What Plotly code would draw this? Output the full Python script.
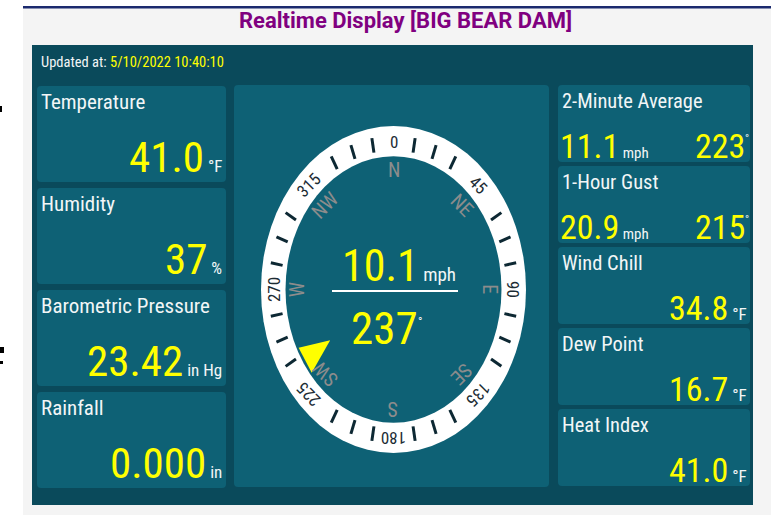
import math
import plotly.graph_objects as go

# ---------------- data ----------------
STATION = "BIG BEAR DAM"
UPDATED_AT = "5/10/2022 10:40:10"

LEFT_LABELS = ["Temperature", "Humidity", "Barometric Pressure", "Rainfall"]
LEFT_VALUES = [41.0, 37, 23.42, 0.000]
LEFT_DECIMALS = [1, 0, 2, 3]
LEFT_UNITS = ["°F", "%", "in Hg", "in"]

WIND_BOX_LABELS = ["2-Minute Average", "1-Hour Gust"]
WIND_BOX_SPEEDS = [11.1, 20.9]
WIND_BOX_DIRS = [223, 215]

RIGHT_LABELS = ["Wind Chill", "Dew Point", "Heat Index"]
RIGHT_VALUES = [34.8, 16.7, 41.0]
RIGHT_UNITS = ["°F", "°F", "°F"]

WIND_SPEED = 10.1
WIND_DIR = 237

DIAL_LABEL_DEG = [0, 45, 90, 135, 180, 225, 270, 315]
CARDINALS = ["N", "NE", "E", "SE", "S", "SW", "W", "NW"]
TICK_DEG = [10, 20, 30, 60, 70, 80, 100, 110, 120, 150, 160, 170,
            190, 200, 210, 240, 250, 260, 280, 290, 300, 330, 340, 350]

# ---------------- style ----------------
W, H = 771, 515
FONT = "Roboto Condensed, Noto Sans Condensed, Roboto, sans-serif"
TITLE_FONT = "Roboto, sans-serif"
PAGE = "#f4f4f4"
PANEL = "#0a4a5b"
BOX = "#0e6175"
YELLOW = "#ffff00"
WHITE = "#f2f6f7"
TICK_COL = "#0d2833"
NUM_COL = "#1c2c34"
CARD_COL = "#8c8c8c"


def X(v):
    return v / W


def Y(v):
    return 1 - v / H


def rrect(x0, y0, x1, y1, color, r=4):
    p = (f"M{X(x0+r)},{Y(y0)} L{X(x1-r)},{Y(y0)} Q{X(x1)},{Y(y0)} {X(x1)},{Y(y0+r)} "
         f"L{X(x1)},{Y(y1-r)} Q{X(x1)},{Y(y1)} {X(x1-r)},{Y(y1)} "
         f"L{X(x0+r)},{Y(y1)} Q{X(x0)},{Y(y1)} {X(x0)},{Y(y1-r)} "
         f"L{X(x0)},{Y(y0+r)} Q{X(x0)},{Y(y0)} {X(x0+r)},{Y(y0)} Z")
    return dict(type="path", path=p, xref="paper", yref="paper",
                fillcolor=color, line=dict(width=0), layer="below")


def prect(x0, y0, x1, y1, color):
    return dict(type="rect", xref="paper", yref="paper", x0=X(x0), x1=X(x1),
                y0=Y(y1), y1=Y(y0), fillcolor=color, line=dict(width=0), layer="below")


shapes = []
annotations = []


def ann(text, x, y, size, color=WHITE, xanchor="left", yanchor="middle", bold=False,
        family=FONT, **kw):
    annotations.append(dict(text=text, x=X(x), y=Y(y), xref="paper", yref="paper",
                            showarrow=False, xanchor=xanchor, yanchor=yanchor,
                            borderpad=0, borderwidth=0,
                            font=dict(family=family, size=size, color=color,
                                      weight="bold" if bold else "normal"), **kw))


def base_ann(text, x, baseline, size, color, xanchor):
    # place so that the text baseline sits at 'baseline' (px)
    ann(text, x, baseline + 0.212 * size, size, color, xanchor=xanchor, yanchor="bottom")


# page background pieces
shapes.append(prect(0, 0, 23, H, "#ffffff"))
shapes.append(prect(0, 0, W, 6, "#ffffff"))
shapes.append(prect(23, 6, W, 8.5, "#1b2a6e"))
shapes.append(prect(0, 106, 2, 112, "#000000"))
shapes.append(prect(0, 347, 4, 353, "#000000"))
shapes.append(prect(0, 361, 3, 364, "#000000"))
# main panel
shapes.append(prect(32, 45, 753, 505, PANEL))

# title
ann(f"Realtime Display [{STATION}]", 405, 21, 22, "#800080", xanchor="center", bold=True,
    family=TITLE_FONT)
ann(f"Updated at: <span style='color:{YELLOW}'>{UPDATED_AT}</span>", 41, 62, 14.5, WHITE)

# left column
left_tops = [86, 188, 290, 392]
for i, top in enumerate(left_tops):
    shapes.append(rrect(37, top, 226, top + 96, BOX))
    ann(LEFT_LABELS[i], 41, top + 16, 21, WHITE)
    val = f"{LEFT_VALUES[i]:.{LEFT_DECIMALS[i]}f}"
    txt = f"{val}<span style='font-size:17px;color:{WHITE}'> {LEFT_UNITS[i]}</span>"
    base_ann(txt, 222, top + 87, 43, YELLOW, "right")

# right column
right_tops = [85, 166, 247, 328, 409]
for i, top in enumerate(right_tops):
    shapes.append(rrect(558, top, 750, top + 77, BOX))
for i in range(2):
    top = right_tops[i]
    ann(WIND_BOX_LABELS[i], 562, top + 16, 20.5, WHITE)
    txt = f"{WIND_BOX_SPEEDS[i]:.1f}<span style='font-size:15px;color:{WHITE}'> mph</span>"
    base_ann(txt, 560, top + 74, 34, YELLOW, "left")
    base_ann(f"{WIND_BOX_DIRS[i]}", 745, top + 74, 34, YELLOW, "right")
    ann("°", 745, top + 47, 11, WHITE, xanchor="left", yanchor="top")
for j in range(3):
    top = right_tops[j + 2]
    ann(RIGHT_LABELS[j], 562, top + 16, 20.5, WHITE)
    txt = f"{RIGHT_VALUES[j]:.1f}<span style='font-size:17px;color:{WHITE}'> {RIGHT_UNITS[j]}</span>"
    base_ann(txt, 747, top + 74, 34, YELLOW, "right")

# center box
shapes.append(rrect(234, 85, 549, 487, BOX))

# compass subplot geometry (px)
CX, CY = 393.5, 289.5
SX, SY = 132.5, 163.5      # px per unit radius
HW, HH = 150, 190
dom_x = [X(CX - HW), X(CX + HW)]
dom_y = [Y(CY + HH), Y(CY - HH)]

R_IN = 0.815
# ring
shapes.append(dict(type="circle", xref="x", yref="y", x0=-1, x1=1, y0=-1, y1=1,
                   fillcolor="#ffffff", line=dict(width=0), layer="below"))
shapes.append(dict(type="circle", xref="x", yref="y", x0=-R_IN, x1=R_IN, y0=-R_IN, y1=R_IN,
                   fillcolor=BOX, line=dict(width=0), layer="below"))


def pol(r, deg):
    a = math.radians(deg)
    return r * math.sin(a), r * math.cos(a)


tx, ty = [], []
for d in TICK_DEG:
    x0, y0 = pol(0.85, d)
    x1, y1 = pol(0.94, d)
    tx += [x0, x1, None]
    ty += [y0, y1, None]

fig = go.Figure()
fig.add_trace(go.Scatter(x=tx, y=ty, mode="lines", line=dict(color=TICK_COL, width=3),
                         hoverinfo="skip", showlegend=False))

# wind direction pointer
half = 6.5
bx1, by1 = pol(0.80, WIND_DIR - half)
bx2, by2 = pol(0.80, WIND_DIR + half)
tpx, tpy = pol(0.57, WIND_DIR)
fig.add_trace(go.Scatter(x=[bx1, tpx, bx2, bx1], y=[by1, tpy, by2, by1], mode="lines",
                         fill="toself", fillcolor=YELLOW, line=dict(width=0, color=YELLOW),
                         hoverinfo="skip", showlegend=False))


def rot(d):
    return d if d <= 180 else d - 360


for d in DIAL_LABEL_DEG:
    x, y = pol(0.905, d)
    annotations.append(dict(text=str(d), x=x, y=y, xref="x", yref="y", showarrow=False,
                            textangle=rot(d), font=dict(family=FONT, size=17, color=NUM_COL)))
for d, name in zip(DIAL_LABEL_DEG, CARDINALS):
    x, y = pol(0.73, d)
    annotations.append(dict(text=name, x=x, y=y, xref="x", yref="y", showarrow=False,
                            textangle=rot(d), font=dict(family=FONT, size=20, color=CARD_COL)))

# center readout
base_ann(f"{WIND_SPEED:.1f}<span style='font-size:19px;color:{WHITE}'> mph</span>",
         399, 283, 44, YELLOW, "center")
shapes.append(dict(type="line", xref="paper", yref="paper", x0=X(332), x1=X(458),
                   y0=Y(291), y1=Y(291), line=dict(color="#ffffff", width=2)))
base_ann(f"{WIND_DIR}", 418, 345, 45, YELLOW, "right")
ann("°", 418, 315, 12, WHITE, xanchor="left", yanchor="top")

fig.update_layout(
    width=W, height=H, autosize=False,
    margin=dict(l=0, r=0, t=0, b=0),
    paper_bgcolor=PAGE, plot_bgcolor="rgba(0,0,0,0)",
    shapes=shapes, annotations=annotations,
    xaxis=dict(domain=dom_x, range=[-HW / SX, HW / SX], visible=False, fixedrange=True),
    yaxis=dict(domain=dom_y, range=[-HH / SY, HH / SY], visible=False, fixedrange=True),
    showlegend=False,
)

fig.write_html("out.html", config={"displayModeBar": False},
               post_script="document.body.style.margin='0';")
